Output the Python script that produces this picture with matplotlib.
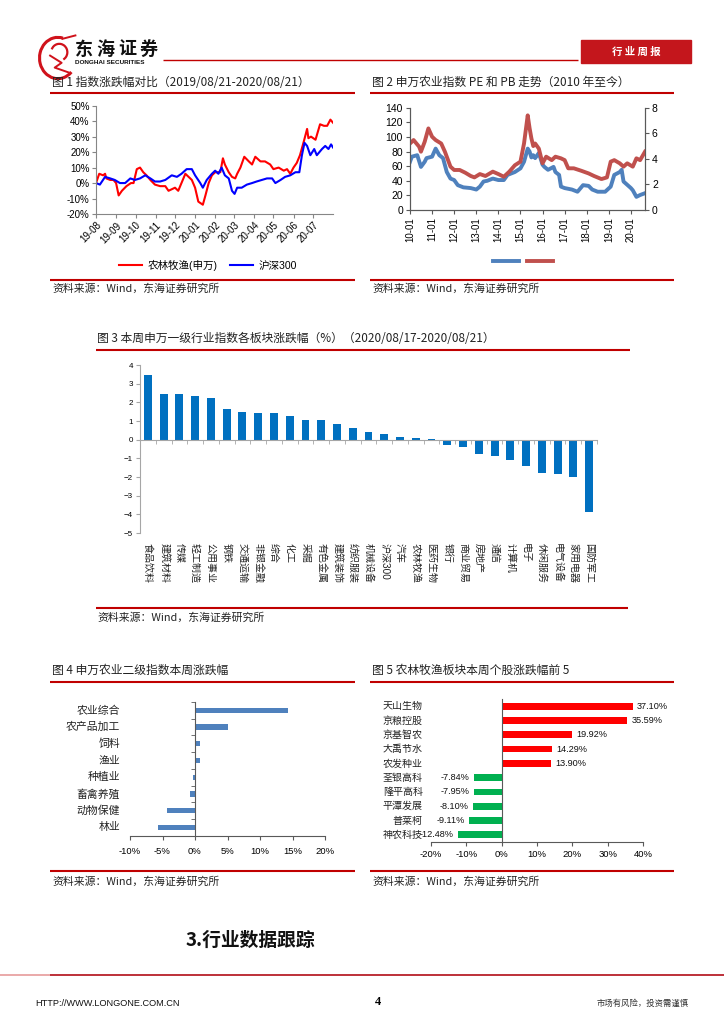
import matplotlib
matplotlib.use('Agg')
import matplotlib.pyplot as plt
import matplotlib.transforms as mtransforms
from matplotlib.lines import Line2D
from matplotlib.patches import Rectangle, Arc
import numpy as np
import pandas as pd

plt.rcParams['font.family'] = ['Liberation Sans', 'Noto Sans CJK SC', 'DejaVu Sans']
CJK = ['Noto Sans CJK SC', 'DejaVu Sans']

# ---------------- data ----------------
# 图1 指数涨跌幅对比 (days after 2019-08-21, %)
f1_start = '2019-08-21'
f1_red_day = [0, 5, 11, 14, 16, 22, 27, 31, 35, 40, 47, 54, 58, 63, 68, 73, 78, 84, 91, 99,
              107, 112, 117, 122, 127, 132, 138, 143, 148, 153, 158, 165, 169, 174, 179, 184,
              192, 196, 199, 205, 210, 215, 218, 223, 229, 236, 241, 246, 254, 261, 269, 274,
              282, 290, 295, 300, 305, 310, 315, 321, 326, 328, 332, 339, 346, 352, 357, 362, 366]
f1_red = [0, 6, 5, 6, 3, 2, 2, 0, -8, -5, -2, 0, 0, 9, 10, 7, 5, 2, -1, -2,
          -2, -5, -4, -3, -5, 0, 6, 4, 2, -3, -12, -14, -8, 0, 5, 7,
          7, 16, 12, 7, 4, 3, 6, 10, 17, 14, 12, 17, 14, 14, 12, 9,
          10, 8, 9, 6, 10, 13, 18, 27, 35, 29, 30, 28, 38, 37, 37, 41, 39]
f1_blue_day = [0, 6, 14, 22, 29, 37, 45, 53, 60, 68, 76, 84, 91, 99, 107, 117, 125, 132, 140, 148,
               153, 161, 165, 171, 179, 184, 189, 194, 199, 205, 210, 214, 218, 225, 233, 241, 248,
               256, 264, 272, 277, 285, 292, 300, 308, 314, 318, 322, 326, 331, 337, 341, 349, 354,
               359, 363, 366]
f1_blue = [0, -1, 4, 3, 2, 0, 0, 3, 2, 3, 5, 3, 1, 1, 2, 5, 4, 6, 9, 9,
           5, 0, -3, 2, 6, 8, 6, 10, 5, 3, -5, -7, -3, -3, -1, 0, 1,
           2, 3, 3, 0, 2, 4, 5, 7, 7, 18, 26, 24, 18, 22, 18, 22, 24,
           22, 25, 23]
f1_xticklabels = ['19-08', '19-09', '19-10', '19-11', '19-12', '20-01', '20-02',
                  '20-03', '20-04', '20-05', '20-06', '20-07']
f1_names = ['农林牧渔(申万)', '沪深300']

# 图2 申万农业指数 PE 和 PB
pe_date = ['2010-01', '2010-02', '2010-05', '2010-07', '2010-09', '2010-10', '2011-01', '2011-03',
           '2011-05', '2011-07', '2011-09', '2011-11', '2012-01', '2012-03', '2012-06', '2012-10',
           '2013-01', '2013-03', '2013-05', '2013-07', '2013-10', '2014-01', '2014-04', '2014-06',
           '2014-10', '2015-01', '2015-03', '2015-05', '2015-06', '2015-07', '2015-08', '2015-09',
           '2015-11', '2016-01', '2016-02', '2016-04', '2016-07', '2016-08', '2016-10', '2016-11',
           '2017-01', '2017-05', '2017-08', '2017-11', '2018-02', '2018-04', '2018-07', '2018-11',
           '2019-02', '2019-04', '2019-07', '2019-08', '2019-09', '2020-01', '2020-02', '2020-04',
           '2020-06', '2020-08-21']
pe_val = [66, 73, 75, 59, 66, 71, 73, 84, 75, 71, 52, 43, 41, 34, 31, 30,
          28, 32, 39, 40, 43, 41, 41, 48, 52, 57, 66, 84, 80, 72, 75, 71,
          78, 62, 59, 55, 59, 52, 48, 32, 30, 28, 25, 34, 33, 28, 25, 25,
          32, 48, 52, 55, 39, 30, 27, 18, 20.5, 23]
pb_date = ['2010-01', '2010-03', '2010-06', '2010-07', '2010-09', '2010-11', '2011-01', '2011-03',
           '2011-06', '2011-08', '2011-11', '2012-01', '2012-04', '2012-07', '2012-10', '2012-12',
           '2013-03', '2013-06', '2013-10', '2014-01', '2014-04', '2014-07', '2014-10', '2015-01',
           '2015-03', '2015-05', '2015-06', '2015-07', '2015-08', '2015-09', '2015-11', '2016-01',
           '2016-03', '2016-06', '2016-08', '2016-11', '2017-01', '2017-03', '2017-06', '2017-10',
           '2018-02', '2018-05', '2018-09', '2018-12', '2019-02', '2019-04', '2019-07', '2019-09',
           '2019-11', '2020-02', '2020-04', '2020-06', '2020-08-21']
pb_val = [5.2, 5.47, 4.95, 4.56, 5.34, 6.38, 5.73, 5.47, 5.2, 4.56, 3.39, 3.13, 3.13, 2.92, 2.66, 2.55,
          2.81, 2.66, 3.0, 2.81, 2.6, 3.0, 3.5, 3.78, 5.2, 7.4, 6.4, 5.6, 5.0, 5.2, 4.8, 3.65,
          4.17, 3.9, 4.17, 4.04, 3.9, 3.26, 3.26, 3.07, 2.86, 2.66, 2.42, 2.55, 3.78, 3.9, 3.65, 3.39,
          3.65, 3.39, 4.04, 3.9, 4.56]
f2_years = ['2010-01-01', '2011-01-01', '2012-01-01', '2013-01-01', '2014-01-01', '2015-01-01',
            '2016-01-01', '2017-01-01', '2018-01-01', '2019-01-01', '2020-01-01']
f2_xticklabels = ['10-01', '11-01', '12-01', '13-01', '14-01', '15-01', '16-01', '17-01',
                  '18-01', '19-01', '20-01']

# 图3 申万一级行业本周涨跌幅 (%)
f3_cats = ['食品饮料', '建筑材料', '传媒', '轻工制造', '公用事业', '钢铁', '交通运输', '非银金融',
           '综合', '化工', '采掘', '有色金属', '建筑装饰', '纺织服装', '机械设备', '沪深300', '汽车',
           '农林牧渔', '医药生物', '银行', '商业贸易', '房地产', '通信', '计算机', '电子', '休闲服务',
           '电气设备', '家用电器', '国防军工']
f3_vals = [3.45, 2.44, 2.44, 2.32, 2.23, 1.64, 1.50, 1.41, 1.41, 1.27, 1.05, 1.05, 0.82, 0.62,
           0.43, 0.32, 0.12, 0.10, 0.06, -0.31, -0.40, -0.75, -0.89, -1.07, -1.43, -1.77,
           -1.82, -2.02, -3.90]

# 图4 申万农业二级指数本周涨跌幅 (%)
f4_cats = ['农业综合', '农产品加工', '饲料', '渔业', '种植业', '畜禽养殖', '动物保健', '林业']
f4_vals = [14.36, 5.08, 0.77, 0.77, -0.30, -0.72, -4.26, -5.74]

# 图5 农林牧渔个股涨跌幅前5 (%)
f5_cats = ['天山生物', '京粮控股', '京基智农', '大禹节水', '农发种业',
           '荃银高科', '隆平高科', '平潭发展', '普莱柯', '神农科技']
f5_vals = [37.10, 35.59, 19.92, 14.29, 13.90, -7.84, -7.95, -8.10, -9.11, -12.48]

# ---------------- layout helpers ----------------
W, H = 724, 1024
RED = '#C00000'
TITLE_FS = 8.5
SRC_FS = 7.8


def rect(x0, y0, x1, y1):
    return [x0 / W, 1 - y1 / H, (x1 - x0) / W, (y1 - y0) / H]


def fx(x):
    return x / W


def fy(y):
    return 1 - y / H


fig = plt.figure(figsize=(7.24, 10.24), dpi=100)


def hline(x0, x1, y, color=RED, lw=1.5):
    fig.add_artist(Line2D([fx(x0), fx(x1)], [fy(y), fy(y)], color=color, lw=lw,
                          transform=fig.transFigure, solid_capstyle='butt'))


def ftext(x, y, s, **kw):
    kw.setdefault('va', 'center')
    kw.setdefault('family', CJK)
    fig.text(fx(x), fy(y), s, **kw)


# ---------------- header ----------------
logo = fig.add_axes(rect(34, 34, 80, 82))
logo.set_xlim(0, 1)
logo.set_ylim(0, 1)
logo.axis('off')
logo.add_patch(Arc((0.52, 0.5), 0.8, 0.86, theta1=75, theta2=315, lw=2.2, color='#D0121B'))
logo.add_patch(Arc((0.55, 0.62), 0.35, 0.35, theta1=-60, theta2=160, lw=1.6, color='#D0121B'))
logo.plot([0.35, 0.6, 0.45, 0.75], [0.55, 0.4, 0.3, 0.2], color='#D0121B', lw=1.4)
logo.plot([0.62, 0.9], [0.9, 0.97], color='#D0121B', lw=1.4)

for i, ch in enumerate('东海证券'):
    ftext(75 + i * 21.5, 49, ch, fontsize=13, fontweight='bold', color='#111111')
ftext(75, 62.5, 'DONGHAI SECURITIES', fontsize=4.6, fontweight='bold', family='Liberation Sans',
      color='#111111')
hline(163, 578, 60, lw=1.0)
fig.add_artist(Rectangle((fx(581), fy(63)), (691 - 581) / W, 23 / H, color='#C4161C',
                         transform=fig.transFigure))
ftext(636, 51.5, '行 业 周 报', fontsize=7.5, fontweight='bold', color='white', ha='center')

# ---------------- 图1 ----------------
ftext(52, 82, '图 1 指数涨跌幅对比（2019/08/21-2020/08/21）', fontsize=TITLE_FS, color='#222222')
hline(50, 355, 92.5)
ax1 = fig.add_axes(rect(96, 105.7, 333, 214))
start = pd.Timestamp(f1_start)
red_x = start + pd.to_timedelta(f1_red_day, unit='D')
blue_x = start + pd.to_timedelta(f1_blue_day, unit='D')
l1, = ax1.plot(red_x, f1_red, color='#FF0000', lw=1.5)
l2, = ax1.plot(blue_x, f1_blue, color='#0000FF', lw=1.5)
ax1.set_xlim(start, start + pd.Timedelta(days=366))
ax1.set_ylim(-20, 50)
ax1.set_yticks(range(-20, 51, 10))
ax1.set_yticklabels([f'{v}%' for v in range(-20, 51, 10)])
ax1.set_xticks([start + pd.DateOffset(months=i) for i in range(len(f1_xticklabels))])
ax1.set_xticklabels(f1_xticklabels, rotation=45, ha='right', rotation_mode='anchor')
for s in ['top', 'right']:
    ax1.spines[s].set_visible(False)
for s in ['left', 'bottom']:
    ax1.spines[s].set_color('#868686')
ax1.tick_params(length=3, color='#868686', labelsize=7, pad=1.5)
fig.legend([l1, l2], f1_names, loc='center', bbox_to_anchor=(fx(208), fy(265)), ncol=2,
           frameon=False, fontsize=7.6, handlelength=2.2, handletextpad=0.5, columnspacing=1.2)
hline(50, 355, 279.5)
ftext(52, 289, '资料来源：Wind，东海证券研究所', fontsize=SRC_FS, color='#222222')

# ---------------- 图2 ----------------
ftext(372, 82, '图 2 申万农业指数 PE 和 PB 走势（2010 年至今）', fontsize=TITLE_FS, color='#222222')
hline(370, 674, 92.5)
ax2 = fig.add_axes(rect(410, 107.7, 645, 210))
ax2b = ax2.twinx()
lpe, = ax2.plot(pd.to_datetime(pe_date, format='mixed'), pe_val, color='#4F81BD', lw=2.8)
lpb, = ax2b.plot(pd.to_datetime(pb_date, format='mixed'), pb_val, color='#C0504D', lw=2.8)
ax2.set_xlim(pd.Timestamp('2010-01-01'), pd.Timestamp('2020-08-21'))
ax2.set_ylim(0, 140)
ax2.set_yticks(range(0, 141, 20))
ax2b.set_ylim(0, 8)
ax2b.set_yticks(range(0, 9, 2))
ax2.set_xticks(pd.to_datetime(f2_years))
ax2.set_xticklabels(f2_xticklabels, rotation=90, ha='center', va='top')
for a in (ax2, ax2b):
    a.spines['top'].set_visible(False)
    for s in ['left', 'right', 'bottom']:
        a.spines[s].set_color('#595959')
    a.tick_params(length=3, color='#595959', labelsize=7.5, pad=2)
ax2.tick_params(axis='x', labelsize=7, pad=2)
fig.legend([lpe, lpb], ['', ''], loc='center', bbox_to_anchor=(fx(523), fy(261)), ncol=2,
           frameon=False, fontsize=7, handlelength=2.7, handletextpad=0, columnspacing=0.8)
hline(370, 674, 279.5)
ftext(372, 289, '资料来源：Wind，东海证券研究所', fontsize=SRC_FS, color='#222222')

# ---------------- 图3 ----------------
ftext(97, 338, '图 3 本周申万一级行业指数各板块涨跌幅（%）（2020/08/17-2020/08/21）',
      fontsize=TITLE_FS, color='#222222')
hline(96, 630, 350)
ax3 = fig.add_axes(rect(140, 365, 597, 533))
x3 = np.arange(len(f3_cats))
ax3.bar(x3, f3_vals, width=0.5, color='#0070C0')
ax3.set_xlim(-0.5, len(f3_cats) - 0.5)
ax3.set_ylim(-5, 4)
ax3.set_yticks(range(-5, 5))
ax3.set_xticks([])
ax3.set_xticks(np.arange(-0.5, len(f3_cats), 1), minor=True)
ax3.spines['bottom'].set_position(('data', 0))
for s in ['top', 'right']:
    ax3.spines[s].set_visible(False)
for s in ['left', 'bottom']:
    ax3.spines[s].set_color('#A6A6A6')
ax3.tick_params(axis='y', length=3, color='#A6A6A6', labelsize=5.8, pad=2)
ax3.tick_params(axis='x', which='minor', length=3, color='#A6A6A6')
blend3 = mtransforms.blended_transform_factory(ax3.transData, ax3.transAxes)
for i, lab in enumerate(f3_cats):
    ax3.text(i, -0.058, lab, transform=blend3, rotation=-90, ha='center', va='top',
             fontsize=7.2, color='#222222')
hline(96, 628, 607.7)
ftext(97, 618, '资料来源：Wind，东海证券研究所', fontsize=SRC_FS, color='#222222')

# ---------------- 图4 ----------------
ftext(52, 670, '图 4 申万农业二级指数本周涨跌幅', fontsize=TITLE_FS, color='#222222')
hline(50, 355, 682)
ax4 = fig.add_axes(rect(130, 702, 325, 835.7))
y4 = np.arange(len(f4_cats))
ax4.barh(y4, f4_vals, height=0.32, color='#4F81BD')
ax4.set_xlim(-10, 20)
ax4.set_ylim(len(f4_cats) - 0.5, -0.5)
ax4.set_xticks(range(-10, 21, 5))
ax4.set_xticklabels([f'{v}%' for v in range(-10, 21, 5)])
ax4.set_yticks([])
ax4.set_yticks(np.arange(-0.5, len(f4_cats), 1), minor=True)
ax4.spines['left'].set_position(('data', 0))
for s in ['top', 'right']:
    ax4.spines[s].set_visible(False)
for s in ['left', 'bottom']:
    ax4.spines[s].set_color('#595959')
ax4.tick_params(axis='x', length=3, color='#595959', labelsize=6.8, pad=5)
ax4.tick_params(axis='y', which='minor', length=3, color='#595959')
blend4 = mtransforms.blended_transform_factory(ax4.transAxes, ax4.transData)
for i, lab in enumerate(f4_cats):
    ax4.text(-0.05, i, lab, transform=blend4, ha='right', va='center', fontsize=7.8,
             color='#222222')
hline(50, 355, 871)
ftext(52, 882, '资料来源：Wind，东海证券研究所', fontsize=SRC_FS, color='#222222')

# ---------------- 图5 ----------------
ftext(372, 670, '图 5 农林牧渔板块本周个股涨跌幅前 5', fontsize=TITLE_FS, color='#222222')
hline(370, 674, 682)
ax5 = fig.add_axes(rect(431, 699, 643, 842))
y5 = np.arange(len(f5_cats))
colors5 = ['#FF0000' if v > 0 else '#00B050' for v in f5_vals]
ax5.barh(y5, f5_vals, height=0.47, color=colors5)
ax5.set_xlim(-20, 40)
ax5.set_ylim(len(f5_cats) - 0.5, -0.5)
ax5.set_xticks(range(-20, 41, 10))
ax5.set_xticklabels([f'{v}%' for v in range(-20, 41, 10)])
ax5.set_yticks([])
ax5.spines['left'].set_position(('data', 0))
for s in ['top', 'right']:
    ax5.spines[s].set_visible(False)
for s in ['left', 'bottom']:
    ax5.spines[s].set_color('#595959')
ax5.tick_params(axis='x', length=3, color='#595959', labelsize=6.8, pad=3)
blend5 = mtransforms.blended_transform_factory(ax5.transAxes, ax5.transData)
for i, (lab, v) in enumerate(zip(f5_cats, f5_vals)):
    ax5.text(-0.038, i, lab, transform=blend5, ha='right', va='center', fontsize=7.2,
             color='#222222')
    ax5.annotate(f'{v:.2f}%', (v, i), xytext=(3 if v > 0 else -3, 0), textcoords='offset points',
                 ha='left' if v > 0 else 'right', va='center', fontsize=6.6, color='#111111')
hline(370, 674, 871)
ftext(372, 882, '资料来源：Wind，东海证券研究所', fontsize=SRC_FS, color='#222222')

# ---------------- footer ----------------
ftext(186, 940, '3.行业数据跟踪', fontsize=13.5, fontweight='bold', color='#111111')
hline(0, 50, 975, color='#E8A3A3', lw=1.3)
hline(50, 724, 975, color='#B8202A', lw=1.3)
ftext(35, 1003, 'HTTP://WWW.LONGONE.COM.CN', fontsize=6.6,
      family=['Liberation Sans Narrow', 'Liberation Sans'], color='#111111')
ftext(378, 1002, '4', fontsize=9, fontweight='bold', family='Liberation Serif', ha='center')
ftext(597, 1003, '市场有风险，投资需谨慎', fontsize=6, color='#333333')

fig.savefig('out.png', dpi=100)
